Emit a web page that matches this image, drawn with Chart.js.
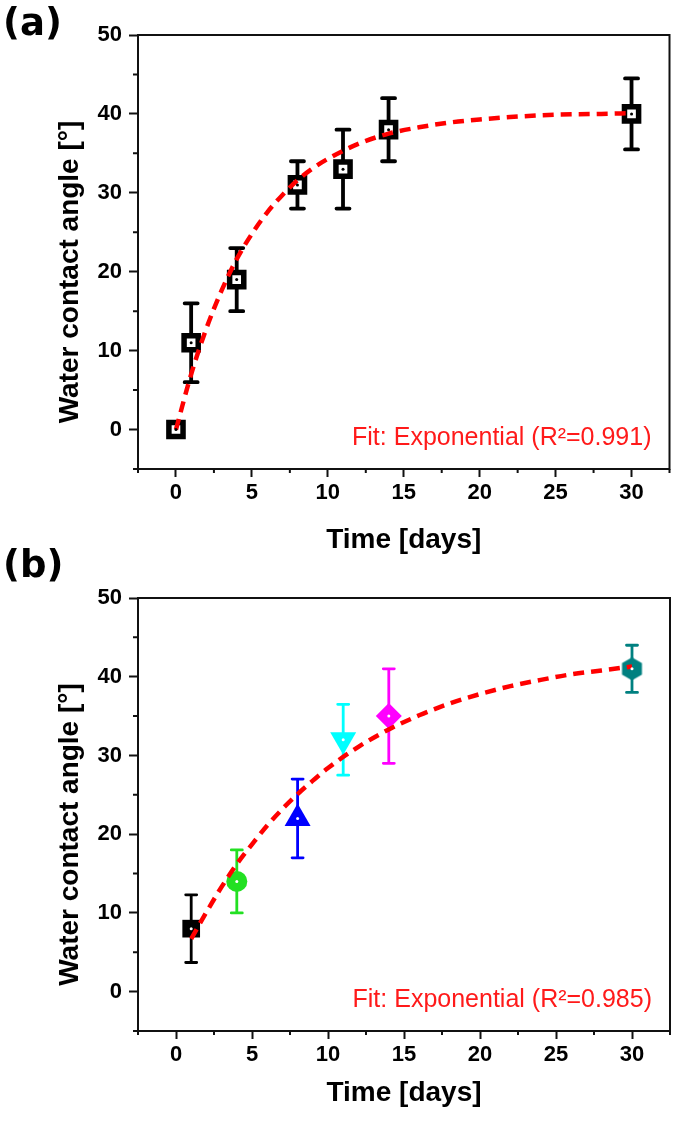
<!DOCTYPE html>
<html><head><meta charset="utf-8">
<script src="https://cdn.jsdelivr.net/npm/chart.js@4.4.1/dist/chart.umd.min.js"></script>
<style>
html,body{margin:0;padding:0;background:#fff;}
#wrap{position:relative;width:685px;height:1123px;overflow:hidden;}
canvas{position:absolute;left:0;}
#ca{top:0;} #cb{top:540px;}
</style></head><body>
<div id="wrap"><canvas id="ca" width="685" height="562"></canvas><canvas id="cb" width="685" height="583"></canvas></div>
<script>
// ---- data ----
const timeA = [0, 1, 4, 8, 11, 14, 30];
const angleA = [0, 11, 19, 31, 33, 38, 40];
const errA = [0, 5, 4, 3, 5, 4, 4.5];

const timeB = [1, 4, 8, 11, 14, 30];
const angleB = [8, 14, 22, 32, 35, 41];
const errB = [4.3, 4, 5, 4.5, 6, 3];

const fitTimeA = [0, 1, 2, 3, 4, 5, 6, 7, 8, 9, 10, 12, 14, 16, 18, 20, 22, 25, 28, 30];
const fitAngleA = [0, 7.0, 12.8, 17.6, 21.6, 24.8, 27.5, 29.7, 31.6, 33.1, 34.3, 36.2, 37.5, 38.3, 38.9, 39.3, 39.6, 39.9, 40.0, 40.1];
const fitTimeB = [1, 2, 3, 4, 5, 6, 7, 8, 9, 10, 12, 14, 16, 18, 20, 22, 24, 26, 28, 30];
const fitAngleB = [6.7, 10.1, 13.3, 16.2, 18.7, 21.1, 23.2, 25.1, 26.8, 28.4, 31.1, 33.3, 35.1, 36.6, 37.8, 38.8, 39.6, 40.3, 40.8, 41.3];

const xTicks = [0, 5, 10, 15, 20, 25, 30];
const xMinorTicks = [-2.5, 2.5, 7.5, 12.5, 17.5, 22.5, 27.5, 32.5];
const yTicks = [0, 10, 20, 30, 40, 50];
const yMinorTicks = [-5, 5, 15, 25, 35, 45];

const panelLabels = ['(a)', '(b)'];
const fitLabels = ['Fit: Exponential (R\u00B2=0.991)', 'Fit: Exponential (R\u00B2=0.985)'];
const xTitle = 'Time [days]';
const yTitle = 'Water contact angle [\u00B0]';

// ---- styles ----
const colorsB = ['#000000', '#22e022', '#0000ff', '#00ffff', '#ff00ff', '#008080'];
const TICK_FONT = 'Liberation Sans, Arial, sans-serif';

function hexagonImage(color, size) {
  const c = document.createElement('canvas');
  c.width = size; c.height = size;
  const g = c.getContext('2d');
  const r = size / 2;
  g.fillStyle = color;
  g.beginPath();
  for (let i = 0; i < 6; i++) {
    const a = Math.PI / 6 + i * Math.PI / 3;
    const px = r + r * Math.cos(a), py = r + r * Math.sin(a);
    if (i === 0) g.moveTo(px, py); else g.lineTo(px, py);
  }
  g.closePath(); g.fill();
  return c;
}

const panelPlugin = {
  id: 'panelPlugin',
  beforeDatasetsDraw(chart, args, o) {
    const ctx = chart.ctx, a = chart.chartArea;
    const xs = chart.scales.x, ys = chart.scales.y;
    ctx.save();
    // frame
    ctx.strokeStyle = '#111'; ctx.lineWidth = 2;
    ctx.strokeRect(a.left, a.top, a.right - a.left, a.bottom - a.top);
    // minor ticks
    ctx.beginPath();
    xMinorTicks.forEach(v => { const px = xs.getPixelForValue(v); ctx.moveTo(px, a.bottom); ctx.lineTo(px, a.bottom + 4); });
    yMinorTicks.forEach(v => { const py = ys.getPixelForValue(v); ctx.moveTo(a.left, py); ctx.lineTo(a.left - 5, py); });
    ctx.stroke();
    // error bars
    ctx.lineCap = 'round';
    o.x.forEach((t, i) => {
      if (!o.err[i]) return;
      const px = xs.getPixelForValue(t);
      const hi = ys.getPixelForValue(o.y[i] + o.err[i]);
      const lo = ys.getPixelForValue(o.y[i] - o.err[i]);
      ctx.strokeStyle = o.colors[i % o.colors.length];
      ctx.lineWidth = o.lineWidth;
      ctx.beginPath();
      ctx.moveTo(px, hi); ctx.lineTo(px, lo);
      ctx.moveTo(px - o.cap, hi); ctx.lineTo(px + o.cap, hi);
      ctx.moveTo(px - o.cap, lo); ctx.lineTo(px + o.cap, lo);
      ctx.stroke();
    });
    ctx.restore();
  },
  afterDraw(chart, args, o) {
    const ctx = chart.ctx, a = chart.chartArea;
    const xs = chart.scales.x, ys = chart.scales.y;
    ctx.save();
    // centre dots
    ctx.fillStyle = o.dotColor;
    o.x.forEach((t, i) => {
      ctx.beginPath();
      ctx.arc(xs.getPixelForValue(t), ys.getPixelForValue(o.y[i]), 1.5, 0, Math.PI * 2);
      ctx.fill();
    });
    // y axis title
    ctx.fillStyle = '#000';
    ctx.font = 'bold 28px ' + TICK_FONT;
    ctx.textAlign = 'center'; ctx.textBaseline = 'middle';
    ctx.translate(70, (a.top + a.bottom) / 2 + 20);
    ctx.rotate(-Math.PI / 2);
    ctx.fillText(yTitle, 0, 0);
    ctx.setTransform(1, 0, 0, 1, 0, 0);
    // fit text
    ctx.fillStyle = '#ff1a1a';
    ctx.font = '25px ' + TICK_FONT;
    ctx.textAlign = 'right'; ctx.textBaseline = 'middle';
    ctx.fillText(o.fitText, a.right - 18, a.bottom - 31);
    // panel label
    ctx.fillStyle = '#000';
    ctx.font = 'bold 37px "DejaVu Sans", sans-serif';
    ctx.textAlign = 'left'; ctx.textBaseline = 'alphabetic';
    ctx.fillText(o.label, 3, o.labelY);
    ctx.restore();
  }
};

function makePanel(id, cfg) {
  const tickFont = { family: TICK_FONT, size: 22, weight: 'bold' };
  const titleFont = { family: TICK_FONT, size: 28, weight: 'bold' };
  return new Chart(document.getElementById(id), {
    type: 'scatter',
    data: {
      datasets: [
        {
          label: 'fit',
          data: cfg.fitX.map((t, i) => ({ x: t, y: cfg.fitY[i] })),
          showLine: true, pointRadius: 0, borderColor: '#ff0000', borderWidth: 4.5,
          borderDash: [11, 7], cubicInterpolationMode: 'monotone', fill: false, order: 0
        },
        {
          label: 'data',
          data: cfg.x.map((t, i) => ({ x: t, y: cfg.y[i] })),
          showLine: false, order: 1,
          pointStyle: cfg.pointStyle, pointRadius: cfg.pointRadius,
          pointRotation: cfg.pointRotation || 0,
          pointBackgroundColor: cfg.pointFill, pointBorderColor: cfg.pointBorder,
          pointBorderWidth: cfg.pointBorderWidth
        }
      ]
    },
    options: {
      responsive: false, animation: false, devicePixelRatio: 1,
      layout: { padding: { left: 0, right: 9, top: cfg.padTop, bottom: 0 } },
      plugins: {
        legend: { display: false }, tooltip: { enabled: false },
        panelPlugin: {
          x: cfg.x, y: cfg.y, err: cfg.err, colors: cfg.barColors, lineWidth: cfg.barWidth, cap: cfg.cap,
          fitText: cfg.fitText, label: cfg.label, labelY: cfg.labelY, dotColor: cfg.dotColor
        }
      },
      scales: {
        x: {
          type: 'linear', min: -2.5, max: 32.5,
          afterBuildTicks: s => { s.ticks = xTicks.map(v => ({ value: v })); },
          afterFit: s => { s.height = cfg.xHeight; },
          grid: { drawOnChartArea: false, drawTicks: true, tickLength: 8, tickWidth: 2, tickColor: '#111' },
          border: { display: true, width: 2, color: '#111' },
          ticks: { font: tickFont, color: '#000', padding: 3, maxRotation: 0, autoSkip: false },
          title: { display: true, text: xTitle, font: titleFont, color: '#000', padding: { top: 0, bottom: cfg.xTitlePad } }
        },
        y: {
          type: 'linear', min: -5, max: 50,
          afterBuildTicks: s => { s.ticks = yTicks.map(v => ({ value: v })); },
          afterFit: s => { s.width = 138; },
          grid: { drawOnChartArea: false, drawTicks: true, tickLength: 9, tickWidth: 2, tickColor: '#111' },
          border: { display: true, width: 2, color: '#111' },
          ticks: { font: tickFont, color: '#000', padding: 7 },
          title: { display: false }
        }
      }
    },
    plugins: [panelPlugin]
  });
}

makePanel('ca', {
  x: timeA, y: angleA, err: errA, fitX: fitTimeA, fitY: fitAngleA,
  pointStyle: 'rect', pointRadius: 10, pointFill: '#ffffff', pointBorder: '#000000', pointBorderWidth: 5.5,
  barColors: ['#000000'], barWidth: 3.8, cap: 6.5, dotColor: '#000',
  fitText: fitLabels[0], label: panelLabels[0], labelY: 35,
  padTop: 35, xHeight: 93, xTitlePad: 5
});

const hex = hexagonImage(colorsB[5], 23);
makePanel('cb', {
  x: timeB, y: angleB, err: errB, fitX: fitTimeB, fitY: fitAngleB,
  pointStyle: ['rect', 'circle', 'triangle', 'triangle', 'rectRot', hex],
  pointRadius: [12.5, 10.5, 15, 15, 13, 11.5], pointRotation: [0, 0, 0, 180, 0, 0],
  pointFill: colorsB, pointBorder: colorsB, pointBorderWidth: 0,
  barColors: colorsB, barWidth: 2.8, cap: 5.5, dotColor: '#fff',
  fitText: fitLabels[1], label: panelLabels[1], labelY: 37,
  padTop: 58, xHeight: 92, xTitlePad: 13
});
</script>
</body></html>
